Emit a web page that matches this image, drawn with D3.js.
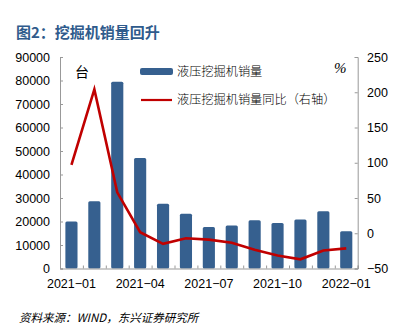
<!DOCTYPE html>
<html><head><meta charset="utf-8">
<script src="https://cdn.jsdelivr.net/npm/d3@7/dist/d3.min.js"></script>
<style>body{margin:0;background:#fff}svg{display:block}</style>
</head><body>
<script>
const months = ["2021-01","2021-02","2021-03","2021-04","2021-05","2021-06","2021-07","2021-08","2021-09","2021-10","2021-11","2021-12","2022-01"];
const sales = [20000,28600,79500,47000,27600,23300,17700,18300,20500,19400,20800,24400,15900];
const yoy = [97,204,58,1.5,-15,-7,-9,-13.5,-23.5,-31.5,-37,-24.5,-21.5];
const leftTicks = [0,10000,20000,30000,40000,50000,60000,70000,80000,90000];
const rightTicks = [-50,0,50,100,150,200,250];
const xLabels = ["2021-01","2021-04","2021-07","2021-10","2022-01"];

const W=404,H=327;
const svg=d3.select("body").append("svg").attr("width",W).attr("height",H);
const L=60,R=357.7,T=57,B=268.5;
const x=d3.scaleBand().domain(months).range([L,R]).paddingInner(0.47).paddingOuter(0.235);
const yL=d3.scaleLinear().domain([0,90000]).range([B,T]);
const yR=d3.scaleLinear().domain([-50,250]).range([B,T]);
const sans="'Liberation Sans',Arial,sans-serif";
const cjk="'Noto Sans CJK SC',sans-serif";

svg.append("text").attr("x",16).attr("y",38).attr("font-family",cjk).attr("font-weight","bold")
  .attr("font-size",15).attr("fill","#2f5b8c").text("图2：挖掘机销量回升");

// bars
svg.append("g").selectAll("rect").data(sales).join("rect")
  .attr("x",(d,i)=>x(months[i])).attr("width",x.bandwidth())
  .attr("y",d=>yL(d)).attr("height",d=>B-yL(d)).attr("rx",1.5)
  .attr("fill","#36608f");

// axes
const gL=svg.append("g").attr("transform",`translate(${L},0)`)
  .call(d3.axisRight(yL).tickValues(leftTicks).tickSize(3).tickFormat(d3.format("d")));
gL.selectAll("text").remove();
svg.append("g").selectAll("text").data(leftTicks).join("text")
  .attr("x",50).attr("y",d=>yL(d)+4.5).attr("text-anchor","end")
  .attr("font-family",sans).attr("font-size",12.5).attr("fill","#000").text(d=>d);
const gR=svg.append("g").attr("transform",`translate(${R},0)`)
  .call(d3.axisLeft(yR).tickValues(rightTicks).tickSize(3));
gR.selectAll("text").remove();
svg.append("g").selectAll("text").data(rightTicks).join("text")
  .attr("x",367).attr("y",d=>yR(d)+4.5).attr("text-anchor","start")
  .attr("font-family",sans).attr("font-size",12.5).attr("fill","#000").text(d=>d<0?"\u2212"+(-d):d);
const gX=svg.append("g").attr("transform",`translate(0,${B})`)
  .call(d3.axisTop(d3.scaleLinear().domain([0,13]).range([L,R])).tickValues(d3.range(0,14)).tickSize(3).tickFormat(""));
[gL,gR,gX].forEach(g=>{g.select(".domain").attr("stroke","#999");g.selectAll(".tick line").attr("stroke","#999");});

svg.append("g").selectAll("text").data(xLabels).join("text")
  .attr("x",d=>x(d)+x.bandwidth()/2).attr("y",288).attr("text-anchor","middle")
  .attr("font-family",sans).attr("font-size",12.5).attr("fill","#000").text(d=>d.replace("-","\u2212"));

// line
const line=d3.line().x((d,i)=>x(months[i])+x.bandwidth()/2).y(d=>yR(d));
svg.append("path").datum(yoy).attr("d",line).attr("fill","none").attr("stroke","#c00000")
  .attr("stroke-width",2.6).attr("stroke-linejoin","miter");

// units
svg.append("text").attr("x",75).attr("y",77).attr("font-family",cjk).attr("font-size",14).text("台");
svg.append("text").attr("x",334).attr("y",73).attr("font-family","'Liberation Serif',serif").attr("font-style","italic").attr("font-size",15).text("%");

// legend
svg.append("rect").attr("x",140).attr("y",68).attr("width",33).attr("height",7).attr("rx",2).attr("fill","#36608f");
svg.append("text").attr("x",177).attr("y",76).attr("font-family",cjk).attr("font-weight",300).attr("font-size",12.2).text("液压挖掘机销量");
svg.append("line").attr("x1",141).attr("x2",172).attr("y1",100).attr("y2",100).attr("stroke","#c00000").attr("stroke-width",2.2);
svg.append("text").attr("x",177).attr("y",104).attr("font-family",cjk).attr("font-weight",300).attr("font-size",12.2).text("液压挖掘机销量同比（右轴）");

// source
svg.append("text").attr("x",19).attr("y",322).attr("font-family",cjk).attr("font-style","italic")
  .attr("font-size",11.5).text("资料来源：WIND，东兴证券研究所");
</script>
</body></html>
